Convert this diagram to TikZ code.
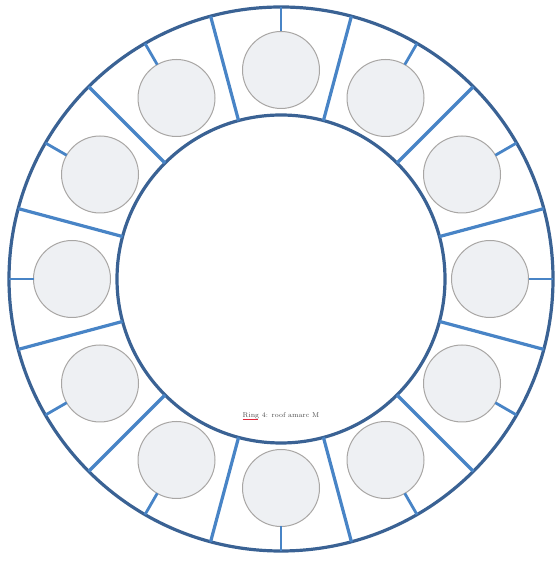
\documentclass[tikz,border=0pt]{standalone}
\usepackage{xcolor}
\usepackage{tikz}
\usetikzlibrary{positioning, calc}
\definecolor{ringblue}{RGB}{58, 98, 148}
\definecolor{spokeblue}{RGB}{72, 132, 198}
\definecolor{ballfill}{RGB}{238, 240, 243}
\definecolor{ballline}{RGB}{168, 166, 164}
\definecolor{spellred}{RGB}{225, 40, 60}

\begin{document}
\begin{tikzpicture}[
        x=1pt, y=1pt,
        ring/.style={circle, draw=ringblue, line width=3.2pt, inner sep=0pt, outer sep=0pt},
        ball/.style={circle, draw=ballline, line width=1pt, fill=ballfill,
                     minimum size=77pt, inner sep=0pt, outer sep=0pt},
        spoke/.style={draw=spokeblue, line width=3.2pt},
        stub/.style={draw=spokeblue, line width=2.8pt},
        note/.style={font=\fontsize{7}{8}\selectfont, text=black!70, inner sep=0pt}
      ]
        \useasboundingbox (0,0) rectangle (557,561);
        \begin{scope}[shift={(281,282)}]
          % rings
          \node[ring, minimum size=544pt] (outer) at (0,0) {};
          \node[ring, minimum size=328pt] (inner) at (0,0) {};
          % separators between the balls
          \foreach \a in {15,45,...,345}
            \draw[spoke] (inner.\a) -- (outer.\a);
          % balls with their stubs
          \foreach \i [evaluate=\i as \a using {90-30*(\i-1)}] in {1,...,12} {
            \node[ball] (ball\i) at (\a:209) {};
            \draw[stub] (ball\i.\a) -- (outer.\a);
          }
          % caption
          \node[note] (caption) at (0,-137) {Ring 4: roof amarc M};
          \draw[spellred, line width=0.8pt] ([yshift=-2pt]caption.base west) -- ++(15,0);
        \end{scope}
      \end{tikzpicture}
\end{document}
